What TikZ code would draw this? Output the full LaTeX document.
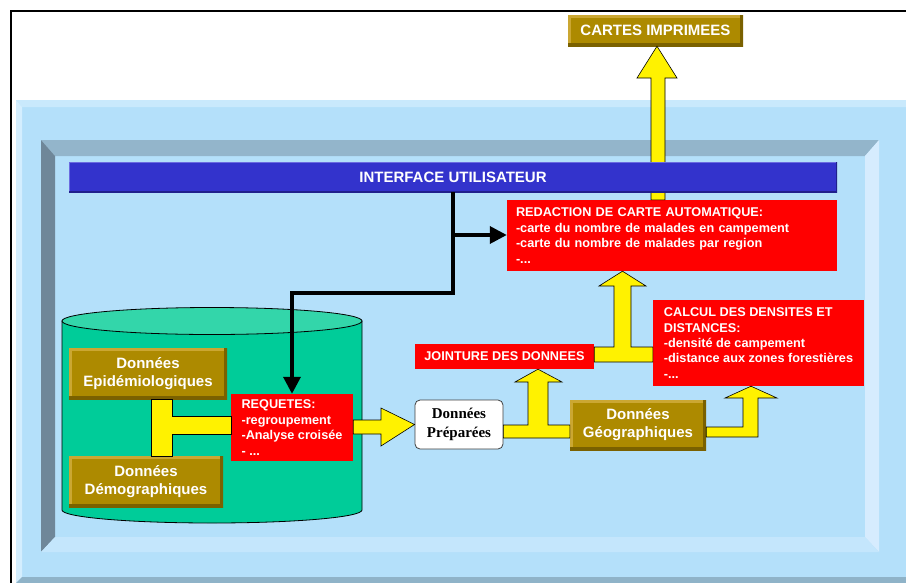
\documentclass[tikz,border=0pt]{standalone}
\usepackage{fontspec}
\setmainfont{Liberation Sans}
\newfontfamily\serifface{Liberation Serif}
\usetikzlibrary{arrows.meta}
\definecolor{bgblue}{HTML}{B4E0FA}
\definecolor{outtop}{HTML}{C9E9FC}
\definecolor{outleft}{HTML}{D4EEFE}
\definecolor{outbot}{HTML}{8FB3C8}
\definecolor{intop}{HTML}{93B5CB}
\definecolor{inleft}{HTML}{6F8799}
\definecolor{inright}{HTML}{D6ECFE}
\definecolor{inbot}{HTML}{C4E6FC}
\definecolor{ifblue}{HTML}{3333CC}
\definecolor{iflight}{HTML}{6B6BE0}
\definecolor{ifdark}{HTML}{20208C}
\definecolor{gold}{HTML}{AD8A00}
\definecolor{goldlight}{HTML}{CBA732}
\definecolor{golddark}{HTML}{7A6100}
\definecolor{cylbody}{HTML}{00CC99}
\definecolor{cyltop}{HTML}{33D6AA}
\tikzset{
  bevelbox/.style n args={3}{path picture={
    \draw[line width=#3,#1] (path picture bounding box.south west) -- (path picture bounding box.north west) -- (path picture bounding box.north east);
    \draw[line width=#3,#2] (path picture bounding box.north east) -- (path picture bounding box.south east) -- (path picture bounding box.south west);}},
  goldbox/.style={fill=gold, text=white, font=\bfseries\fontsize{15}{18}\selectfont,
    align=center, inner sep=0pt, bevelbox={goldlight}{golddark}{6pt}},
  redbox/.style={fill=red, text=white, font=\bfseries\fontsize{12.7}{15.4}\selectfont,
    align=left, inner sep=0pt},
  ifbar/.style={fill=ifblue, text=white, font=\bfseries\fontsize{15}{18}\selectfont,
    inner sep=0pt, bevelbox={iflight}{ifdark}{2.5pt}},
  prepbox/.style={fill=white, draw=black!75, line width=0.8pt, rounded corners=5pt,
    font=\serifface\bfseries\fontsize{15}{19}\selectfont, align=center, inner sep=0pt},
  ybar/.style={fill=yellow, draw=black, line width=0.6pt, line join=miter},
  blk/.style={line width=3.5pt, line join=miter, -{Triangle[length=17pt,width=17pt]}}
}
\begin{document}
\begin{tikzpicture}[x=1pt,y=-1pt]
\useasboundingbox (0,0) rectangle (906,582);
\clip (0,0) rectangle (906,582);
\fill[white] (0,0) rectangle (906,582);
% outer raised panel
\fill[bgblue] (16,100) rectangle (920,600);
\fill[outtop] (16,100) -- (920,100) -- (920,107) -- (22,107) -- cycle;
\fill[outleft] (16,100) -- (22,107) -- (22,577) -- (16,583) -- cycle;
\fill[outbot] (16,583) -- (22,577) -- (920,577) -- (920,600) -- (16,600) -- cycle;
% inner recessed panel
\fill[intop] (41,140) -- (879,140) -- (865,156) -- (55,156) -- cycle;
\fill[inleft] (41,140) -- (55,156) -- (55,537) -- (41,552) -- cycle;
\fill[inright] (879,140) -- (879,552) -- (865,537) -- (865,156) -- cycle;
\fill[inbot] (41,552) -- (879,552) -- (865,537) -- (55,537) -- cycle;
% frame
\draw[line width=2.5pt] (11,600) -- (11,11) -- (920,11);
% top output
\node[goldbox, minimum width=175pt, minimum height=31pt] (cartes) at (655.5,30.5) {CARTES IMPRIMEES};
\node[redbox, minimum width=330pt, minimum height=71pt, text width=312pt, inner xsep=9pt] (redac) at (672,235.5)
  {REDACTION DE CARTE AUTOMATIQUE:\\-carte du nombre de malades en campement\\-carte du nombre de malades par region\\-...};
\draw[ybar] (redac.north -| 651,0) -- (651,78) -- (637,78) -- (cartes.south -| 657,0) -- (677,78) -- (665,78) -- (redac.north -| 665,0) -- cycle;
\node[ifbar, minimum width=768pt, minimum height=30pt] (iface) at (453,177) {INTERFACE UTILISATEUR};
% cylinder
\path[draw=black, line width=0.8pt, fill=cylbody] (62,321) -- (62,510) .. controls (62,517.2) and (129.2,523) .. (212,523) .. controls (294.8,523) and (362,517.2) .. (362,510) -- (362,321) -- cycle;
\draw[fill=cyltop, line width=0.8pt] (212,321) ellipse [x radius=150pt, y radius=13.5pt];
% nodes
\node[goldbox, minimum width=158pt, minimum height=51pt] (epi) at (148,373.5) {Données\\Epidémiologiques};
\node[goldbox, minimum width=154pt, minimum height=51pt] (demo) at (146,481.5) {Données\\Démographiques};
\node[redbox, minimum width=122pt, minimum height=67pt] (req) at (292,427.5) {REQUETES:\\-regroupement\\-Analyse croisée\\- ...};
\node[prepbox, minimum width=88pt, minimum height=49pt] (prep) at (459,424.5) {Données\\Préparées};
\node[goldbox, minimum width=136pt, minimum height=50pt] (geo) at (638,425) {Données\\Géographiques};
\node[redbox, minimum width=179pt, minimum height=25pt, align=center] (join) at (504.5,356.5) {JOINTURE DES DONNEES};
\node[redbox, minimum width=211pt, minimum height=86pt] (calc) at (758.5,343) {CALCUL DES DENSITES ET\\DISTANCES:\\-densité de campement\\-distance aux zones forestières\\-...};
% yellow connectors
\draw[ybar] (epi.south -| 151,0) -- (epi.south -| 172,0) -- (172,416) -- (req.west |- 0,416) -- (req.west |- 0,434) -- (172,434) -- (demo.north -| 172,0) -- (demo.north -| 151,0) -- cycle;
\draw[ybar] (req.east |- 0,420) -- (381,420) -- (381,408) -- (prep.west) -- (381,446) -- (381,434) -- (req.east |- 0,434) -- cycle;
\draw[ybar] (prep.east |- 0,425) -- (528,425) -- (528,382) -- (515,382) -- (join.south -| 538,0) -- (562,382) -- (548,382) -- (548,425) -- (geo.west |- 0,425) -- (geo.west |- 0,438) -- (prep.east |- 0,438) -- cycle;
\draw[ybar] (geo.east |- 0,427) -- (743,427) -- (743,398) -- (725,398) -- (calc.south -| 751,0) -- (777,398) -- (758,398) -- (758,437) -- (geo.east |- 0,437) -- cycle;
\draw[ybar] (join.east |- 0,347) -- (614,347) -- (614,286) -- (599,286) -- (redac.south -| 622.5,0) -- (646,286) -- (631,286) -- (631,347) -- (calc.west |- 0,347) -- (calc.west |- 0,362) -- (join.east |- 0,362) -- cycle;
% black control arrows
\coordinate (j1) at (453,293);
\coordinate (j2) at (292,293);
\coordinate (j3) at (453,235);
\draw[blk] (iface.south -| j1) -- (j1) -- (j2) -- (req.north -| j2);
\draw[blk] (j3) -- (redac.west |- j3);
\end{tikzpicture}
\end{document}
